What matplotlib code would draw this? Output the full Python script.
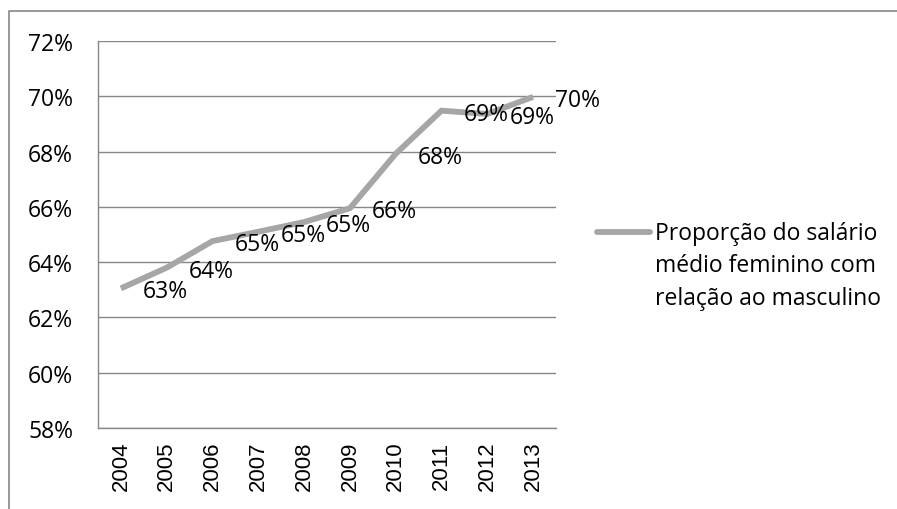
import matplotlib
matplotlib.use("Agg")
import matplotlib.pyplot as plt
from matplotlib.lines import Line2D
from matplotlib.ticker import FuncFormatter, MultipleLocator

# Proporção do salário médio feminino em relação ao masculino
anos = ["2004", "2005", "2006", "2007", "2008", "2009", "2010", "2011", "2012", "2013"]
proporcao = [63.05, 63.80, 64.76, 65.10, 65.45, 65.95, 67.92, 69.48, 69.36, 69.98]
serie_nome = "Proporção do salário\nmédio feminino com\nrelação ao masculino"

W, H = 897, 510
fig = plt.figure(figsize=(W / 100, H / 100), dpi=100)

LINE_COLOR = "#A6A6A6"
GRID_COLOR = "#868686"
TXT_FONT = ["Open Sans", "DejaVu Sans"]
FS = 16.5

# plot area in pixel coordinates
x0, x1, y_top, y_bot = 98, 556, 42, 429
ax = fig.add_axes([x0 / W, 1 - y_bot / H, (x1 - x0) / W, (y_bot - y_top) / H])

xs = list(range(len(anos)))
ax.plot(xs, proporcao, color=LINE_COLOR, lw=4.2, solid_joinstyle="miter",
        solid_capstyle="butt", zorder=3)

ax.set_xlim(-0.5, len(anos) - 0.5)
ax.set_ylim(58, 72)
ax.yaxis.set_major_locator(MultipleLocator(2))
ax.yaxis.set_major_formatter(FuncFormatter(lambda v, p: f"{v:.0f}%"))
ax.yaxis.grid(True, color=GRID_COLOR, lw=1)
ax.set_axisbelow(True)

ax.set_xticks(xs)
ax.set_xticklabels(anos, rotation=90, family=["Liberation Sans"], fontsize=16)
ax.tick_params(axis="x", length=0, pad=9)
ax.tick_params(axis="y", length=0, pad=18)
for lab in ax.get_yticklabels():
    lab.set_family(TXT_FONT)
    lab.set_fontsize(FS)

for side in ("top", "right"):
    ax.spines[side].set_visible(False)
for side in ("left", "bottom"):
    ax.spines[side].set_color(GRID_COLOR)
    ax.spines[side].set_linewidth(1)

# data labels to the right of each point
for x, v in zip(xs, proporcao):
    ax.annotate(f"{round(v):.0f}%", (x, v), xytext=(22, -3), textcoords="offset pixels",
                ha="left", va="center", fontsize=FS, family=TXT_FONT, zorder=4)

# legend
ly = 1 - 233 / H
fig.add_artist(Line2D([597 / W, 650 / W], [ly, ly], color=LINE_COLOR, lw=4.2,
                      solid_capstyle="round", transform=fig.transFigure))
fig.text(655 / W, 1 - 222 / H, serie_nome, ha="left", va="top", fontsize=FS,
         family=TXT_FONT, linespacing=1.47)

# chart frame
fig.add_artist(Line2D([9 / W, 9 / W, 1.0], [0.0, 1 - 12 / H, 1 - 12 / H],
                      color=GRID_COLOR, lw=1.2, transform=fig.transFigure))

fig.savefig("out.png", dpi=100, facecolor="white")
